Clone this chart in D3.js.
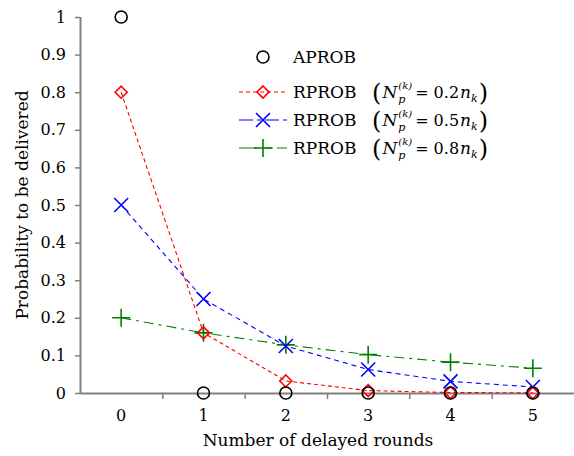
<!DOCTYPE html>
<html>
<head>
<meta charset="utf-8">
<script src="https://cdn.jsdelivr.net/npm/d3@7"></script>
<style>
  body { margin: 0; background: #fff; }
  svg text { font-family: 'DejaVu Serif', serif; fill: #000; }
  .axis path, .axis line { stroke: #808080; }
</style>
</head>
<body>
<div id="chart"></div>
<script>
const rounds = [0, 1, 2, 3, 4, 5];
const aprob = [1, 0, 0, 0, 0, 0];
const rprob02 = [0.8, 0.16, 0.032, 0.0064, 0.0013, 0.0003];
const rprob05 = [0.5, 0.25, 0.125, 0.0625, 0.031, 0.016];
const rprob08 = [0.2, 0.16, 0.128, 0.102, 0.082, 0.066];
const yTicks = [0, 0.1, 0.2, 0.3, 0.4, 0.5, 0.6, 0.7, 0.8, 0.9, 1];
const yTickLabels = ['0', '0.1', '0.2', '0.3', '0.4', '0.5', '0.6', '0.7', '0.8', '0.9', '1'];
const legendCoef = ['0.2', '0.5', '0.8'];

const margin = { top: 17, left: 80, bottom: 63, right: 0 };
const width = 574 - margin.left - margin.right;
const height = 456 - margin.top - margin.bottom;

const svg = d3.select('#chart').append('svg')
    .attr('width', 574)
    .attr('height', 456);

const g = svg.append('g')
    .attr('transform', `translate(${margin.left},${margin.top})`);

const xScale = d3.scaleLinear().domain([-0.5, 5.5]).range([0, width]);
const yScale = d3.scaleLinear().domain([0, 1]).range([height, 0]);

// axes
const xAxisG = g.append('g').attr('class', 'axis axis--x')
    .attr('transform', `translate(0,${height})`)
    .call(d3.axisBottom(xScale).tickValues([0.5, 1.5, 2.5, 3.5, 4.5]).tickSize(6).tickFormat(''));
xAxisG.select('.domain').attr('d', `M0,0.5H${width}`).attr('stroke-width', 2);
xAxisG.selectAll('.tick line').attr('stroke-width', 1.5);

xAxisG.selectAll('.xlabel').data(rounds)
  .enter().append('text')
    .attr('x', d => xScale(d))
    .attr('y', 28)
    .attr('text-anchor', 'middle')
    .attr('font-size', 16)
    .text(d => d);

const yAxisG = g.append('g').attr('class', 'axis axis--y')
    .call(d3.axisLeft(yScale).tickValues(yTicks).tickSize(5).tickPadding(9)
      .tickFormat((d, i) => yTickLabels[i]));
yAxisG.select('.domain').attr('d', `M0.5,0V${height}`).attr('stroke-width', 2);
yAxisG.selectAll('.tick line').attr('stroke-width', 1.5);
yAxisG.selectAll('.tick text').attr('font-size', 16);

svg.append('text')
    .attr('x', 318)
    .attr('y', 446)
    .attr('text-anchor', 'middle')
    .attr('font-size', 17)
    .text('Number of delayed rounds');

svg.append('text')
    .attr('transform', `translate(28,${margin.top + yScale(0.5)}) rotate(-90)`)
    .attr('text-anchor', 'middle')
    .attr('font-size', 17)
    .text('Probability to be delivered');

// marker drawers
const markers = {
  circle: (sel, c) => sel.append('circle').attr('r', 6).attr('fill', 'none').attr('stroke', c).attr('stroke-width', 1.6),
  diamond: (sel, c) => sel.append('path').attr('d', 'M0,-6L6,0L0,6L-6,0Z').attr('fill', 'none').attr('stroke', c).attr('stroke-width', 1.6),
  cross: (sel, c) => sel.append('path').attr('d', 'M-7,-7L7,7M-7,7L7,-7').attr('stroke', c).attr('stroke-width', 1.6),
  plus: (sel, c) => sel.append('path').attr('d', 'M-9,0H9M0,-9V9').attr('stroke', c).attr('stroke-width', 1.6)
};

const series = [
  { values: rprob08, color: '#008000', dash: '10,5,3,5', marker: 'plus', line: true },
  { values: rprob05, color: '#0000ff', dash: '5,4', marker: 'cross', line: true },
  { values: rprob02, color: '#ff0000', dash: '4,3', marker: 'diamond', line: true },
  { values: aprob, color: '#000', dash: null, marker: 'circle', line: false }
];

const line = d3.line()
    .x((d, i) => xScale(rounds[i]))
    .y(d => yScale(d));

series.filter(s => s.line).forEach(s => {
  g.append('path').datum(s.values)
      .attr('d', line)
      .attr('fill', 'none')
      .attr('stroke', s.color)
      .attr('stroke-width', 1.1)
      .attr('stroke-dasharray', s.dash);
});

series.forEach(s => {
  g.append('g').selectAll('g').data(s.values)
    .enter().append('g')
      .attr('transform', (d, i) => `translate(${xScale(rounds[i])},${yScale(d)})`)
      .each(function () { markers[s.marker](d3.select(this), s.color); });
});

// legend
const legendRows = [
  { color: '#000', dash: null, marker: 'circle', label: 'APROB', coef: null, y: 57 },
  { color: '#ff0000', dash: '4,3', marker: 'diamond', label: 'RPROB', coef: legendCoef[0], y: 92 },
  { color: '#0000ff', dash: '14,4,4,4', marker: 'cross', label: 'RPROB', coef: legendCoef[1], y: 120 },
  { color: '#008000', dash: '18,8,8,4', marker: 'plus', label: 'RPROB', coef: legendCoef[2], y: 148 }
];

// chain text pieces left to right, each its own element
function piece(parent, x, y, str, size, italic) {
  const t = parent.append('text').attr('x', x).attr('y', y).attr('font-size', size).text(str);
  if (italic) t.attr('font-style', 'italic');
  return x + t.node().getComputedTextLength();
}

const legend = svg.append('g').attr('class', 'legend');
legendRows.forEach(r => {
  const row = legend.append('g').attr('transform', `translate(0,${r.y})`);
  if (r.dash) {
    row.append('line').attr('x1', 239).attr('x2', 287).attr('y1', 0).attr('y2', 0)
        .attr('stroke', r.color).attr('stroke-width', 1.1).attr('stroke-dasharray', r.dash);
  }
  const m = row.append('g').attr('transform', 'translate(263,0)');
  markers[r.marker](m, r.color);
  row.append('text').attr('x', 293).attr('y', 6).attr('font-size', 17).text(r.label);
  if (r.coef) {
    let x = 372;
    x = piece(row, x, 9, '(', 24, false) + 1;
    x = piece(row, x, 6, 'N', 17, true) + 1;
    const xs = x;
    const x1 = piece(row, xs, -3, '(k)', 10, true);
    piece(row, xs, 11, 'p', 11, true);
    x = piece(row, x1 + 3, 6, '= ' + r.coef, 16, false) + 1;
    x = piece(row, x, 6, 'n', 17, true);
    x = piece(row, x, 10, 'k', 11, true) + 1;
    piece(row, x, 9, ')', 24, false);
  }
});
</script>
</body>
</html>
